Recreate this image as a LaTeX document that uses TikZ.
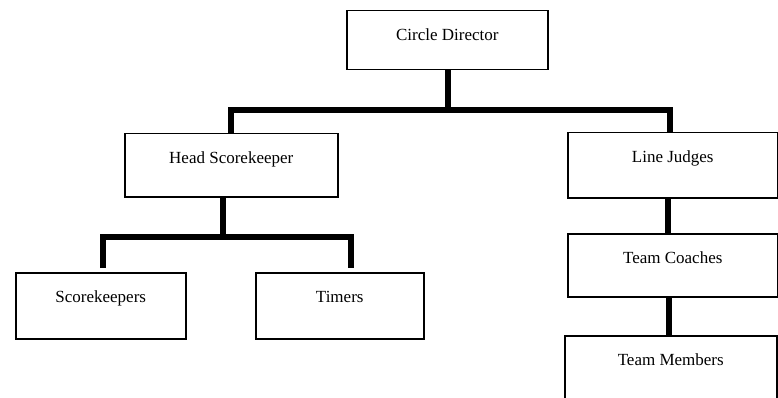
\documentclass[tikz,border=0pt]{standalone}
\usepackage{fontspec}
\setmainfont{Liberation Serif}
\usetikzlibrary{calc}
\begin{document}
\begin{tikzpicture}[x=1pt,y=-1pt,
    post/.style={draw,line width=1.5pt,inner sep=0pt,anchor=north west,
      text height=30pt,font=\fontsize{17}{20}\selectfont},
    link/.style={line width=6pt,line join=miter}]
  \clip (0,0) rectangle (778,398);
  \node[post,minimum width=201pt,text depth=29pt] (cd) at (346,10) {Circle Director};
  \node[post,minimum width=213pt,text depth=33pt] (hs) at (124,133) {Head Scorekeeper};
  \node[post,minimum width=210pt,text depth=35pt] (lj) at (567,132) {Line Judges};
  \node[post,minimum width=170pt,text depth=36pt] (sk) at (15,272) {Scorekeepers};
  \node[post,minimum width=168pt,text depth=36pt] (ti) at (255,272) {Timers};
  \node[post,minimum width=210pt,text depth=33pt] (tc) at (567,233) {Team Coaches};
  \node[post,minimum width=212pt,text depth=100pt] (tm) at (564,335) {Team Members};
  \coordinate (top) at (448,110);
  \coordinate (low) at (223,236.5);
  \draw[link] (top |- cd.south) -- (top);
  \draw[link] (hs.north) |- (top) -| ($(lj.north)+(-3,0)$);
  \draw[link] (low |- hs.south) -- (low);
  \draw[link] ($(sk.north)+(2,-4)$) |- (low) -| ($(ti.north)+(11,-4)$);
  \draw[link] ($(lj.south)+(-5,0)$) -- ($(tc.north)+(-5,0)$);
  \draw[link] ($(tc.south)+(-4,0)$) -- ($(tm.north)+(-2,0)$);
\end{tikzpicture}
\end{document}
